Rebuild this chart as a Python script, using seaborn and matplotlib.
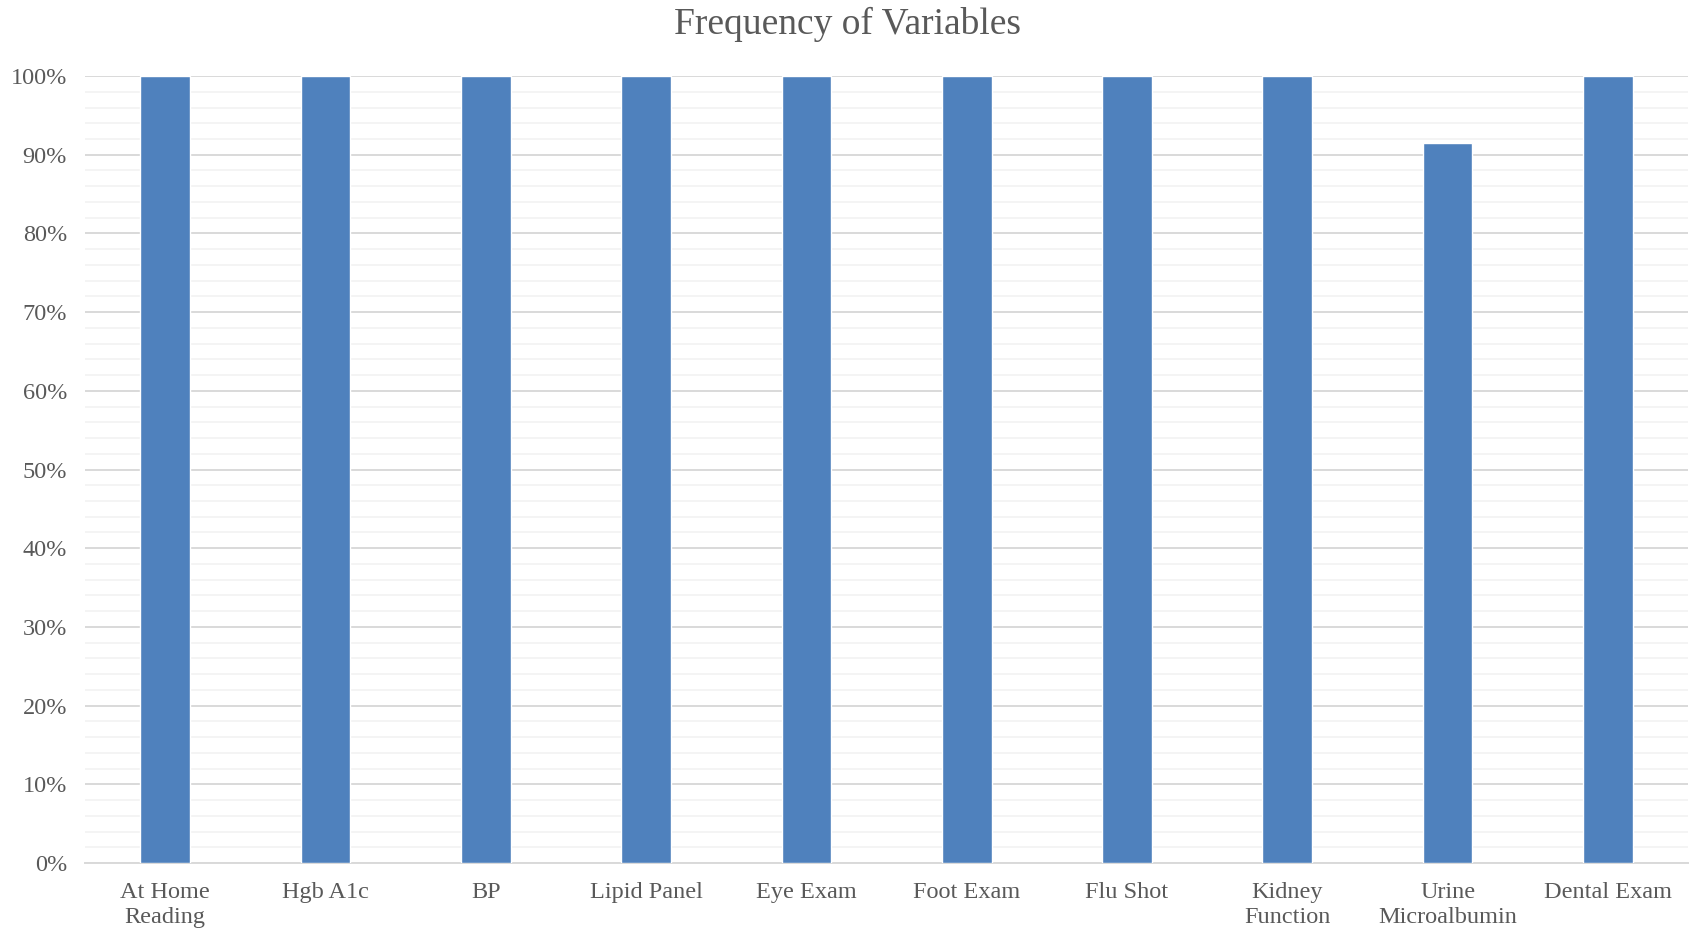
import numpy as np
import pandas as pd
import seaborn as sns
import matplotlib.pyplot as plt
from matplotlib.ticker import MultipleLocator, PercentFormatter

# data
variables = ["At Home\nReading", "Hgb A1c", "BP", "Lipid Panel", "Eye Exam",
             "Foot Exam", "Flu Shot", "Kidney\nFunction", "Urine\nMicroalbumin",
             "Dental Exam"]
frequency = [100, 100, 100, 100, 100, 100, 100, 100, 91.5, 100]

data = pd.DataFrame({"Variable": variables, "Frequency": frequency})

sns.set_theme(style="white")
plt.rcParams['font.family'] = ['Liberation Serif', 'DejaVu Serif']
text_col = "#595959"

fig = plt.figure(figsize=(16.94, 9.33), dpi=100)
ax = fig.add_axes([0.0502, 0.075, 0.9463, 0.8435])

sns.barplot(data=data, x="Variable", y="Frequency", color="#4F81BD",
            saturation=1, width=0.31, ax=ax, zorder=3)

ax.set_ylim(0, 100)
ax.set_xlim(-0.5, len(variables) - 0.5)
ax.yaxis.set_major_locator(MultipleLocator(10))
ax.yaxis.set_minor_locator(MultipleLocator(2))
ax.yaxis.set_major_formatter(PercentFormatter(decimals=0))
ax.grid(which="minor", axis="y", color="#F2F2F2", linewidth=1.2, zorder=0)
ax.grid(which="major", axis="y", color="#D9D9D9", linewidth=1.4, zorder=1)
ax.set_axisbelow(True)

for s in ["top", "right", "left"]:
    ax.spines[s].set_visible(False)
ax.spines["bottom"].set_color("#D9D9D9")
ax.spines["bottom"].set_linewidth(1.4)

ax.tick_params(axis="both", which="both", length=0, labelsize=17.5, colors=text_col)
ax.tick_params(axis="y", pad=13)
ax.tick_params(axis="x", pad=14)
for lab in ax.get_xticklabels():
    lab.set_linespacing(1.25)
ax.set_xlabel("")
ax.set_ylabel("")

fig.suptitle("Frequency of Variables", y=0.993, va="top", fontsize=27, color=text_col)

fig.savefig("out.png", dpi=100)
